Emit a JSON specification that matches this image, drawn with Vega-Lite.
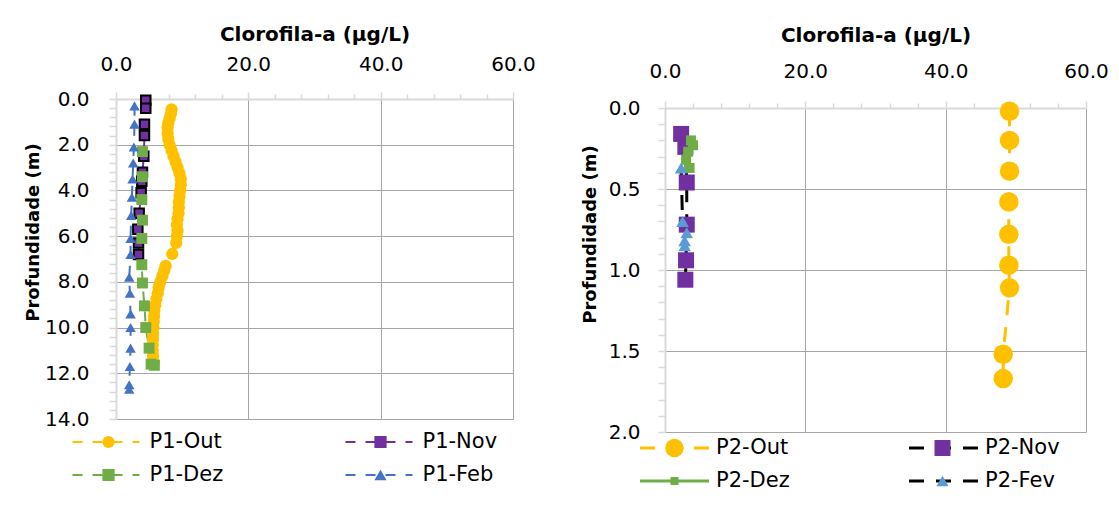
{
  "$schema": "https://vega.github.io/schema/vega-lite/v6.json",
  "padding": {"left": 24, "top": 24, "right": 0, "bottom": 0},
  "spacing": 45,
  "resolve": {
    "scale": {"stroke": "independent", "strokeDash": "independent", "fill": "independent", "shape": "independent", "x": "independent", "y": "independent"},
    "legend": {"stroke": "independent", "strokeDash": "independent", "fill": "independent", "shape": "independent"}
  },
  "config": {
    "font": "DejaVu Sans",
    "view": {"stroke": null},
    "axis": {
      "domainColor": "#D9D9D9", "domainWidth": 2,
      "tickColor": "#D9D9D9", "tickWidth": 1.5,
      "gridColor": "#A6A6A6", "gridWidth": 1,
      "labelFontSize": 20, "labelColor": "#000000", "labelFont": "DejaVu Sans",
      "titleFontSize": 20, "titleFontWeight": "bold", "titleColor": "#000000", "titleFont": "DejaVu Sans",
      "labelFlush": false, "labelOverlap": false, "labelBound": false
    },
    "legend": {"labelFont": "DejaVu Sans", "labelFontSize": 21, "labelColor": "#000000", "padding": 0, "direction": "horizontal"}
  },
  "datasets": {
    "p1": [
      {"series": "P1-Out", "depth": 0.45, "chl": 8.4},
      {"series": "P1-Out", "depth": 0.65, "chl": 8.3},
      {"series": "P1-Out", "depth": 0.85, "chl": 8.1},
      {"series": "P1-Out", "depth": 1.05, "chl": 7.9},
      {"series": "P1-Out", "depth": 1.25, "chl": 7.8},
      {"series": "P1-Out", "depth": 1.5, "chl": 7.8},
      {"series": "P1-Out", "depth": 1.75, "chl": 7.9},
      {"series": "P1-Out", "depth": 2.0, "chl": 8.1},
      {"series": "P1-Out", "depth": 2.25, "chl": 8.4},
      {"series": "P1-Out", "depth": 2.5, "chl": 8.7},
      {"series": "P1-Out", "depth": 2.75, "chl": 9.0},
      {"series": "P1-Out", "depth": 3.0, "chl": 9.3},
      {"series": "P1-Out", "depth": 3.25, "chl": 9.6},
      {"series": "P1-Out", "depth": 3.5, "chl": 9.8},
      {"series": "P1-Out", "depth": 3.75, "chl": 9.8},
      {"series": "P1-Out", "depth": 4.0, "chl": 9.7},
      {"series": "P1-Out", "depth": 4.25, "chl": 9.6},
      {"series": "P1-Out", "depth": 4.5, "chl": 9.5},
      {"series": "P1-Out", "depth": 4.75, "chl": 9.5},
      {"series": "P1-Out", "depth": 5.0, "chl": 9.45},
      {"series": "P1-Out", "depth": 5.25, "chl": 9.3},
      {"series": "P1-Out", "depth": 5.5, "chl": 9.2},
      {"series": "P1-Out", "depth": 5.75, "chl": 9.3},
      {"series": "P1-Out", "depth": 6.0, "chl": 9.2},
      {"series": "P1-Out", "depth": 6.3, "chl": 9.1},
      {"series": "P1-Out", "depth": 6.78, "chl": 8.5},
      {"series": "P1-Out", "depth": 7.3, "chl": 7.5},
      {"series": "P1-Out", "depth": 7.5, "chl": 7.3},
      {"series": "P1-Out", "depth": 7.75, "chl": 7.0},
      {"series": "P1-Out", "depth": 8.0, "chl": 6.7},
      {"series": "P1-Out", "depth": 8.25, "chl": 6.45},
      {"series": "P1-Out", "depth": 8.5, "chl": 6.3},
      {"series": "P1-Out", "depth": 8.75, "chl": 6.1},
      {"series": "P1-Out", "depth": 9.0, "chl": 5.95},
      {"series": "P1-Out", "depth": 9.25, "chl": 5.8},
      {"series": "P1-Out", "depth": 9.5, "chl": 5.75},
      {"series": "P1-Out", "depth": 9.75, "chl": 5.7},
      {"series": "P1-Out", "depth": 10.0, "chl": 5.65},
      {"series": "P1-Out", "depth": 10.25, "chl": 5.6},
      {"series": "P1-Out", "depth": 10.5, "chl": 5.6},
      {"series": "P1-Out", "depth": 10.75, "chl": 5.55},
      {"series": "P1-Out", "depth": 11.0, "chl": 5.55},
      {"series": "P1-Out", "depth": 11.25, "chl": 5.6},
      {"series": "P1-Out", "depth": 11.5, "chl": 5.7},
      {"series": "P1-Nov", "depth": 0.05, "chl": 4.5},
      {"series": "P1-Nov", "depth": 0.4, "chl": 4.5},
      {"series": "P1-Nov", "depth": 1.1, "chl": 4.3},
      {"series": "P1-Nov", "depth": 1.6, "chl": 4.3},
      {"series": "P1-Nov", "depth": 2.5, "chl": 4.2},
      {"series": "P1-Nov", "depth": 3.2, "chl": 4.0},
      {"series": "P1-Nov", "depth": 3.6, "chl": 3.9},
      {"series": "P1-Nov", "depth": 4.1, "chl": 3.8},
      {"series": "P1-Nov", "depth": 5.0, "chl": 3.5},
      {"series": "P1-Nov", "depth": 5.7, "chl": 3.3},
      {"series": "P1-Nov", "depth": 6.3, "chl": 3.4},
      {"series": "P1-Nov", "depth": 6.8, "chl": 3.4},
      {"series": "P1-Dez", "depth": 2.3, "chl": 4.0},
      {"series": "P1-Dez", "depth": 3.4, "chl": 4.0},
      {"series": "P1-Dez", "depth": 4.4, "chl": 3.9},
      {"series": "P1-Dez", "depth": 5.3, "chl": 4.0},
      {"series": "P1-Dez", "depth": 6.1, "chl": 3.9},
      {"series": "P1-Dez", "depth": 7.25, "chl": 3.9},
      {"series": "P1-Dez", "depth": 8.05, "chl": 4.0},
      {"series": "P1-Dez", "depth": 9.05, "chl": 4.3},
      {"series": "P1-Dez", "depth": 10.0, "chl": 4.5},
      {"series": "P1-Dez", "depth": 10.9, "chl": 5.0},
      {"series": "P1-Dez", "depth": 11.6, "chl": 5.3},
      {"series": "P1-Dez", "depth": 11.65, "chl": 5.8},
      {"series": "P1-Feb", "depth": 0.3, "chl": 2.8},
      {"series": "P1-Feb", "depth": 1.1, "chl": 2.8},
      {"series": "P1-Feb", "depth": 2.1, "chl": 2.7},
      {"series": "P1-Feb", "depth": 2.8, "chl": 2.6},
      {"series": "P1-Feb", "depth": 3.5, "chl": 2.5},
      {"series": "P1-Feb", "depth": 4.3, "chl": 2.4},
      {"series": "P1-Feb", "depth": 5.1, "chl": 2.3},
      {"series": "P1-Feb", "depth": 6.1, "chl": 2.2},
      {"series": "P1-Feb", "depth": 6.8, "chl": 2.2},
      {"series": "P1-Feb", "depth": 7.8, "chl": 2.0},
      {"series": "P1-Feb", "depth": 8.5, "chl": 2.1},
      {"series": "P1-Feb", "depth": 9.4, "chl": 2.2},
      {"series": "P1-Feb", "depth": 10.0, "chl": 2.2},
      {"series": "P1-Feb", "depth": 10.9, "chl": 2.2},
      {"series": "P1-Feb", "depth": 11.7, "chl": 2.1},
      {"series": "P1-Feb", "depth": 12.5, "chl": 2.0},
      {"series": "P1-Feb", "depth": 12.7, "chl": 2.0}
    ],
    "p2": [
      {"series": "P2-Out", "depth": 0.02, "chl": 49.1},
      {"series": "P2-Out", "depth": 0.2, "chl": 49.1},
      {"series": "P2-Out", "depth": 0.39, "chl": 49.1},
      {"series": "P2-Out", "depth": 0.58, "chl": 49.0},
      {"series": "P2-Out", "depth": 0.78, "chl": 49.0},
      {"series": "P2-Out", "depth": 0.97, "chl": 49.0},
      {"series": "P2-Out", "depth": 1.11, "chl": 49.1},
      {"series": "P2-Out", "depth": 1.52, "chl": 48.2},
      {"series": "P2-Out", "depth": 1.67, "chl": 48.2},
      {"series": "P2-Nov", "depth": 0.16, "chl": 2.3},
      {"series": "P2-Nov", "depth": 0.24, "chl": 2.9},
      {"series": "P2-Nov", "depth": 0.46, "chl": 3.1},
      {"series": "P2-Nov", "depth": 0.72, "chl": 3.1},
      {"series": "P2-Nov", "depth": 0.94, "chl": 3.0},
      {"series": "P2-Nov", "depth": 1.06, "chl": 2.9},
      {"series": "P2-Dez", "depth": 0.2, "chl": 3.7},
      {"series": "P2-Dez", "depth": 0.23, "chl": 4.0},
      {"series": "P2-Dez", "depth": 0.27, "chl": 3.3},
      {"series": "P2-Dez", "depth": 0.32, "chl": 3.0},
      {"series": "P2-Dez", "depth": 0.37, "chl": 3.5},
      {"series": "P2-Fev", "depth": 0.37, "chl": 2.3},
      {"series": "P2-Fev", "depth": 0.7, "chl": 2.5},
      {"series": "P2-Fev", "depth": 0.77, "chl": 3.1},
      {"series": "P2-Fev", "depth": 0.82, "chl": 2.8},
      {"series": "P2-Fev", "depth": 0.85, "chl": 2.8}
    ]
  },
  "hconcat": [
    {
      "width": 397, "height": 320,
      "data": {"name": "p1"},
      "encoding": {
        "x": {"field": "chl", "type": "quantitative", "scale": {"domain": [0, 60], "nice": false},
          "axis": {"orient": "top", "title": "Clorofila-a (µg/L)",
            "values": [0, 4, 8, 12, 16, 20, 24, 28, 32, 36, 40, 44, 48, 52, 56, 60],
            "labelExpr": "datum.value % 20 === 0 ? format(datum.value, '.1f') : ''",
            "tickSize": {"condition": {"test": "datum.value % 20 === 0", "value": 7}, "value": 5},
            "gridOpacity": {"condition": {"test": "datum.value % 20 === 0", "value": 1}, "value": 0},
            "labelPadding": 18, "titlePadding": 10}},
        "y": {"field": "depth", "type": "quantitative", "scale": {"domain": [0, 14], "reverse": true, "nice": false, "zero": false},
          "axis": {"title": "Profundidade (m)", "titleFontSize": 18, "titleY": 133,
            "values": [0, 0.4, 0.8, 1.2, 1.6, 2, 2.4, 2.8, 3.2, 3.6, 4, 4.4, 4.8, 5.2, 5.6, 6, 6.4, 6.8, 7.2, 7.6, 8, 8.4, 8.8, 9.2, 9.6, 10, 10.4, 10.8, 11.2, 11.6, 12, 12.4, 12.8, 13.2, 13.6, 14],
            "labelExpr": "datum.value % 2 === 0 ? format(datum.value, '.1f') : ''",
            "gridOpacity": {"condition": {"test": "datum.value % 2 === 0", "value": 1}, "value": 0},
            "tickSize": 7, "labelPadding": 20, "titlePadding": 2}}
      },
      "layer": [
        {
          "mark": {"type": "line", "strokeWidth": 2},
          "encoding": {
            "stroke": {"field": "series", "type": "nominal",
              "scale": {"domain": ["P1-Out", "P1-Nov", "P1-Dez", "P1-Feb", "-"], "range": ["#FFC000", "#7030A0", "#70AD47", "#4472C4", "#FFFFFF"]},
              "legend": {"values": ["P1-Out", "P1-Nov", "P1-Dez", "P1-Feb"], "title": null, "orient": "none", "direction": "horizontal", "legendX": -44.5, "legendY": 332.5,
                "columns": 2, "columnPadding": 121, "rowPadding": 11, "clipHeight": 21, "labelOffset": 9,
                "symbolType": "stroke", "symbolSize": 4489, "symbolStrokeWidth": 2}},
            "strokeDash": {"field": "series", "type": "nominal",
              "scale": {"domain": ["P1-Out", "P1-Nov", "P1-Dez", "P1-Feb", "-"], "range": [[10, 10], [10, 10], [10, 10], [10, 10], [1, 0]]},
              "legend": {"values": ["P1-Out", "P1-Nov", "P1-Dez", "P1-Feb"], "title": null, "orient": "none", "direction": "horizontal", "legendX": -44.5, "legendY": 332.5,
                "columns": 2, "columnPadding": 121, "rowPadding": 11, "clipHeight": 21, "labelOffset": 9,
                "symbolType": "stroke", "symbolSize": 4489, "symbolStrokeWidth": 2}},
            "order": {"field": "depth", "type": "quantitative"}
          }
        },
        {
          "mark": {"type": "point", "filled": true, "opacity": 1, "strokeWidth": 2},
          "encoding": {
            "fill": {"field": "series", "type": "nominal",
              "scale": {"domain": ["P1-Out", "P1-Nov", "P1-Dez", "P1-Feb"], "range": ["#FFC000", "#7030A0", "#70AD47", "#4472C4"]},
              "legend": {"title": null, "orient": "none", "direction": "horizontal", "legendX": -18, "legendY": 332.5,
                "columns": 2, "columnPadding": 251, "rowPadding": 11, "clipHeight": 21, "labelOffset": 0, "labelExpr": "''",
                "symbolSize": 150, "symbolStrokeWidth": 0, "symbolOpacity": 1,
                "encode": {"symbols": {"update": {
                  "size": {"signal": "datum.value === 'P1-Out' ? 150 : datum.value === 'P1-Nov' ? 80 : datum.value === 'P1-Dez' ? 110 : 100"},
                  "stroke": {"signal": "datum.value === 'P1-Nov' ? 'black' : 'transparent'"},
                  "strokeWidth": {"signal": "datum.value === 'P1-Nov' ? 2 : 0"}}}}}},
            "shape": {"field": "series", "type": "nominal",
              "scale": {"domain": ["P1-Out", "P1-Nov", "P1-Dez", "P1-Feb"], "range": ["circle", "square", "square", "triangle-up"]},
              "legend": {"title": null, "orient": "none", "direction": "horizontal", "legendX": -18, "legendY": 332.5,
                "columns": 2, "columnPadding": 251, "rowPadding": 11, "clipHeight": 21, "labelOffset": 0, "labelExpr": "''",
                "symbolSize": 150, "symbolStrokeWidth": 0, "symbolOpacity": 1,
                "encode": {"symbols": {"update": {
                  "size": {"signal": "datum.value === 'P1-Out' ? 150 : datum.value === 'P1-Nov' ? 80 : datum.value === 'P1-Dez' ? 110 : 100"},
                  "stroke": {"signal": "datum.value === 'P1-Nov' ? 'black' : 'transparent'"},
                  "strokeWidth": {"signal": "datum.value === 'P1-Nov' ? 2 : 0"}}}}}},
            "size": {"condition": [
              {"test": "datum.series === 'P1-Out'", "value": 150},
              {"test": "datum.series === 'P1-Nov'", "value": 90},
              {"test": "datum.series === 'P1-Dez'", "value": 120}], "value": 110},
            "stroke": {"condition": {"test": "datum.series === 'P1-Nov'", "value": "#000000"}, "value": "transparent"}
          }
        }
      ]
    },
    {
      "width": 421, "height": 333,
      "data": {"name": "p2"},
      "encoding": {
        "x": {"field": "chl", "type": "quantitative", "scale": {"domain": [0, 60], "nice": false},
          "axis": {"orient": "top", "title": "Clorofila-a (µg/L)", "offset": -9,
            "values": [0, 4, 8, 12, 16, 20, 24, 28, 32, 36, 40, 44, 48, 52, 56, 60],
            "labelExpr": "datum.value % 20 === 0 ? format(datum.value, '.1f') : ''",
            "tickSize": {"condition": {"test": "datum.value % 20 === 0", "value": 7}, "value": 5},
            "gridOpacity": {"condition": {"test": "datum.value % 20 === 0", "value": 1}, "value": 0},
            "labelPadding": 20, "titlePadding": 16}},
        "y": {"field": "depth", "type": "quantitative", "scale": {"domain": [0, 2], "range": [9, 333], "nice": false, "zero": false},
          "axis": {"title": "Profundidade (m)", "titleFontSize": 18, "titleY": 135,
            "values": [0, 0.1, 0.2, 0.3, 0.4, 0.5, 0.6, 0.7, 0.8, 0.9, 1, 1.1, 1.2, 1.3, 1.4, 1.5, 1.6, 1.7, 1.8, 1.9, 2],
            "labelExpr": "datum.value % 0.5 === 0 ? format(datum.value, '.1f') : ''",
            "gridOpacity": {"condition": {"test": "datum.value % 0.5 === 0", "value": 1}, "value": 0},
            "tickSize": 7, "labelPadding": 18, "titlePadding": 9}}
      },
      "layer": [
        {
          "mark": {"type": "line", "strokeWidth": 3},
          "encoding": {
            "stroke": {"field": "series", "type": "nominal",
              "scale": {"domain": ["P2-Out", "P2-Nov", "P2-Dez", "P2-Fev", "-"], "range": ["#FFC000", "#000000", "#70AD47", "#000000", "#FFFFFF"]},
              "legend": {"values": ["P2-Out", "P2-Nov", "P2-Dez", "P2-Fev"], "title": null, "orient": "none", "direction": "horizontal", "legendX": -26.5, "legendY": 338.5,
                "columns": 2, "columnPadding": 117, "rowPadding": 11, "clipHeight": 21, "labelOffset": 5.5,
                "symbolType": "stroke", "symbolSize": 4761, "symbolStrokeWidth": 3}},
            "strokeDash": {"field": "series", "type": "nominal",
              "scale": {"domain": ["P2-Out", "P2-Nov", "P2-Dez", "P2-Fev", "-"], "range": [[15, 12], [15, 12], [1, 0], [15, 12], [1, 0]]},
              "legend": {"values": ["P2-Out", "P2-Nov", "P2-Dez", "P2-Fev"], "title": null, "orient": "none", "direction": "horizontal", "legendX": -26.5, "legendY": 338.5,
                "columns": 2, "columnPadding": 117, "rowPadding": 11, "clipHeight": 21, "labelOffset": 5.5,
                "symbolType": "stroke", "symbolSize": 4761, "symbolStrokeWidth": 3}},
            "order": {"field": "depth", "type": "quantitative"}
          }
        },
        {
          "mark": {"type": "point", "filled": true, "opacity": 1, "strokeWidth": 0},
          "encoding": {
            "fill": {"field": "series", "type": "nominal",
              "scale": {"domain": ["P2-Out", "P2-Nov", "P2-Dez", "P2-Fev"], "range": ["#FFC000", "#7030A0", "#70AD47", "#5B9BD5"]},
              "legend": {"title": null, "orient": "none", "direction": "horizontal", "legendX": -1, "legendY": 338.5,
                "columns": 2, "columnPadding": 247, "rowPadding": 11, "clipHeight": 21, "labelOffset": 0, "labelExpr": "''",
                "symbolSize": 361, "symbolStrokeWidth": 0, "symbolOpacity": 1,
                "encode": {"symbols": {"update": {
                  "size": {"signal": "datum.value === 'P2-Out' ? 340 : datum.value === 'P2-Nov' ? 256 : datum.value === 'P2-Dez' ? 64 : 150"},
                  "strokeWidth": {"value": 0}}}}}},
            "shape": {"field": "series", "type": "nominal",
              "scale": {"domain": ["P2-Out", "P2-Nov", "P2-Dez", "P2-Fev"], "range": ["circle", "square", "square", "triangle-up"]},
              "legend": {"title": null, "orient": "none", "direction": "horizontal", "legendX": -1, "legendY": 338.5,
                "columns": 2, "columnPadding": 247, "rowPadding": 11, "clipHeight": 21, "labelOffset": 0, "labelExpr": "''",
                "symbolSize": 361, "symbolStrokeWidth": 0, "symbolOpacity": 1,
                "encode": {"symbols": {"update": {
                  "size": {"signal": "datum.value === 'P2-Out' ? 340 : datum.value === 'P2-Nov' ? 256 : datum.value === 'P2-Dez' ? 64 : 150"},
                  "strokeWidth": {"value": 0}}}}}},
            "size": {"condition": [
              {"test": "datum.series === 'P2-Out'", "value": 380},
              {"test": "datum.series === 'P2-Nov'", "value": 256},
              {"test": "datum.series === 'P2-Dez'", "value": 100}], "value": 160}
          }
        }
      ]
    }
  ]
}
